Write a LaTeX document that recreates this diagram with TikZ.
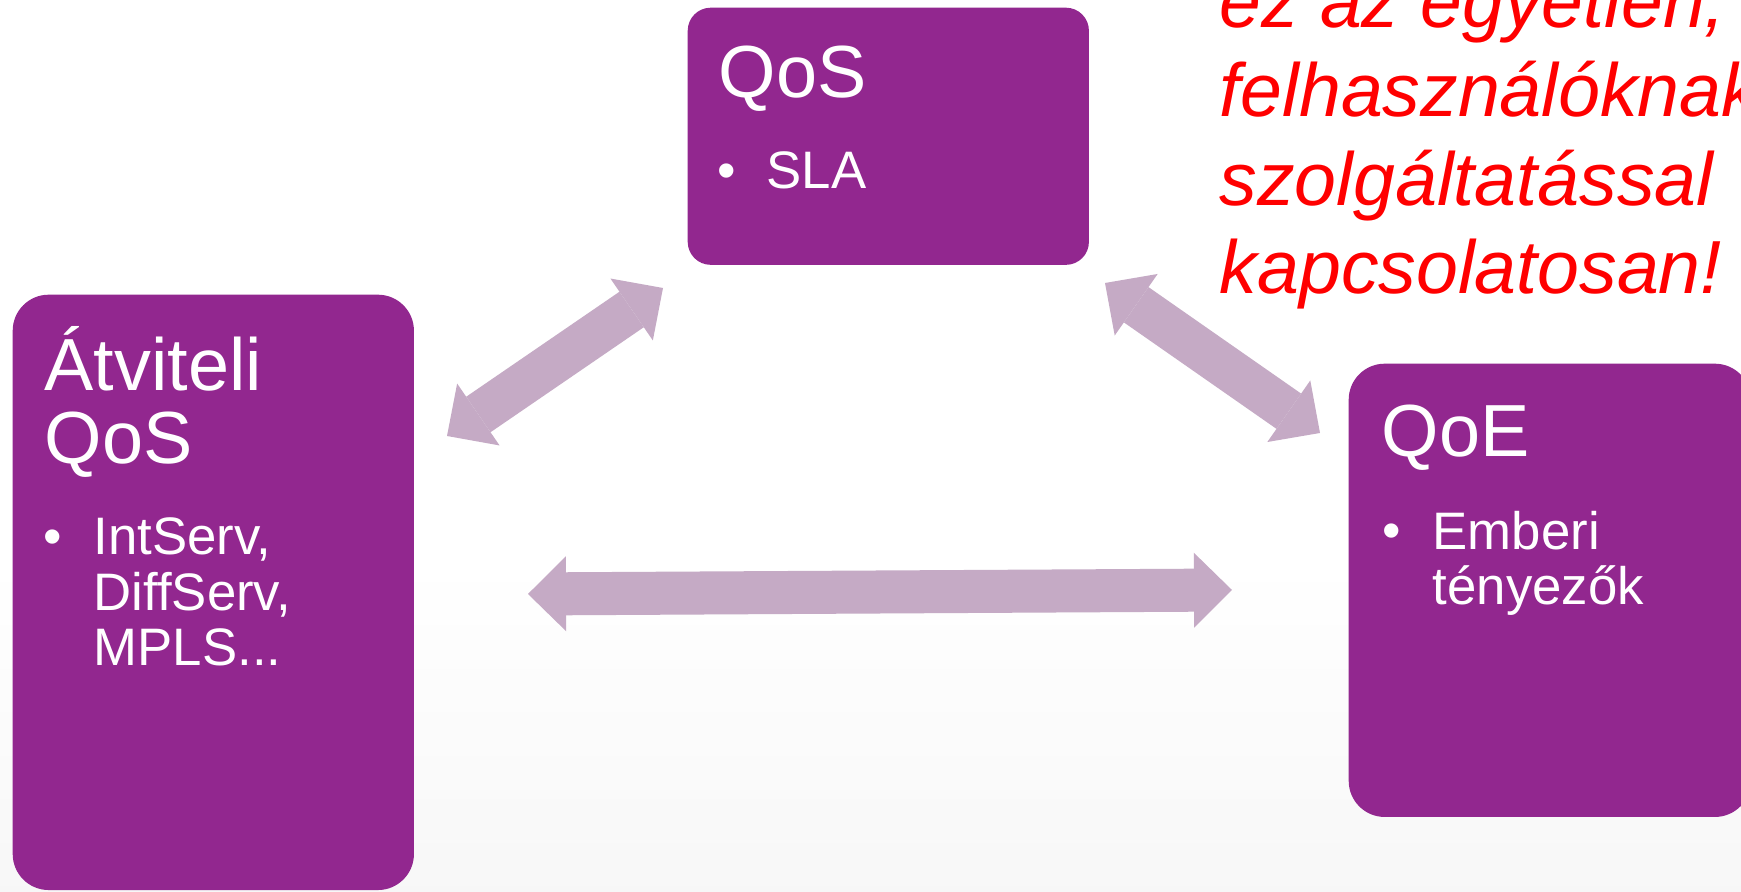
\documentclass[tikz,border=0pt]{standalone}
\usepackage{fontspec}
\setmainfont{Liberation Sans}
\usetikzlibrary{arrows.meta,calc}

\definecolor{boxcol}{HTML}{92278F}
\definecolor{linkcol}{HTML}{C5AAC5}
\definecolor{notecol}{HTML}{FF0000}

\tikzset{
  topic box/.style = {
    shape = rectangle,
    fill = boxcol,
    inner sep = 0pt,
    anchor = north west,
    rounded corners = #1,
    },
  % base of a multi-line text is its last line
  title/.style = {
    anchor = base west,
    inner sep = 0pt,
    align = left,
    text = white,
    font = \fontsize{21}{20.8}\selectfont,
    },
  item/.style = {
    title,
    font = \fontsize{15}{15.9}\selectfont,
    },
  note/.style = {
    anchor = base west,
    inner sep = 0pt,
    align = left,
    text = notecol,
    font = \fontsize{21.4}{25.3}\selectfont\itshape,
    },
  link/.style = {
    line width = 0.43cm,
    color = linkcol,
    {Triangle[length=0.38cm,width=0.75cm,line width=0pt]}-{Triangle[length=0.38cm,width=0.75cm,line width=0pt]},
    },
}

\begin{document}
\begin{tikzpicture}[x=0.01cm,y=-0.01cm]

    \clip (0,0) rectangle (1741,892);
    \fill[white] (0,0) rectangle (1741,892);
    \shade[top color=white,bottom color=black!3] (0,560) rectangle (1741,892);

    % boxes
    \node[topic box=0.23cm, minimum width=4.01cm, minimum height=2.57cm] (qos) at (687,7) {};
    \node[topic box=0.36cm, minimum width=4.01cm, minimum height=5.95cm] (atv) at (12,294) {};
    \node[topic box=0.36cm, minimum width=4.02cm, minimum height=4.53cm] (qoe) at (1348,363) {};

    % texts
    \node[title] (qos-t) at ($(qos.north west)+(31,91)$) {QoS};
    \node[item] (qos-b) at ($(qos.north west)+(30,182)$) {•};
    \node[item] (qos-i) at ($(qos.north west)+(79,182)$) {SLA};

    \node[title] (atv-t) at ($(atv.north west)+(32,170)$) {Átviteli\\QoS};
    \node[item] (atv-b) at ($(atv.north west)+(31,261)$) {•};
    \node[item] (atv-i) at ($(atv.north west)+(81,372)$) {IntServ,\\DiffServ,\\MPLS...};

    \node[title] (qoe-t) at ($(qoe.north west)+(33,94)$) {QoE};
    \node[item] (qoe-b) at ($(qoe.north west)+(34,186)$) {•};
    \node[item] (qoe-i) at ($(qoe.north west)+(84,242)$) {Emberi\\tényezők};

    \node[note] (remark) at (1219,294) {ez az egyetlen,\\felhasználóknak\\szolgáltatással\\kapcsolatosan!};

    % Paths
    \coordinate (atv-end) at (447,436);
    \coordinate (qos-left) at (663,288);
    \coordinate (qos-right) at (1105,283);
    \coordinate (qoe-end) at (1320,433);
    \coordinate (atv-mid) at (528,594);
    \coordinate (qoe-mid) at (1232,590);

    \draw[link] (atv-end) -- (qos-left);
    \draw[link] (qos-right) -- (qoe-end);
    \draw[link] (atv-mid) -- (qoe-mid);

\end{tikzpicture}
\end{document}
